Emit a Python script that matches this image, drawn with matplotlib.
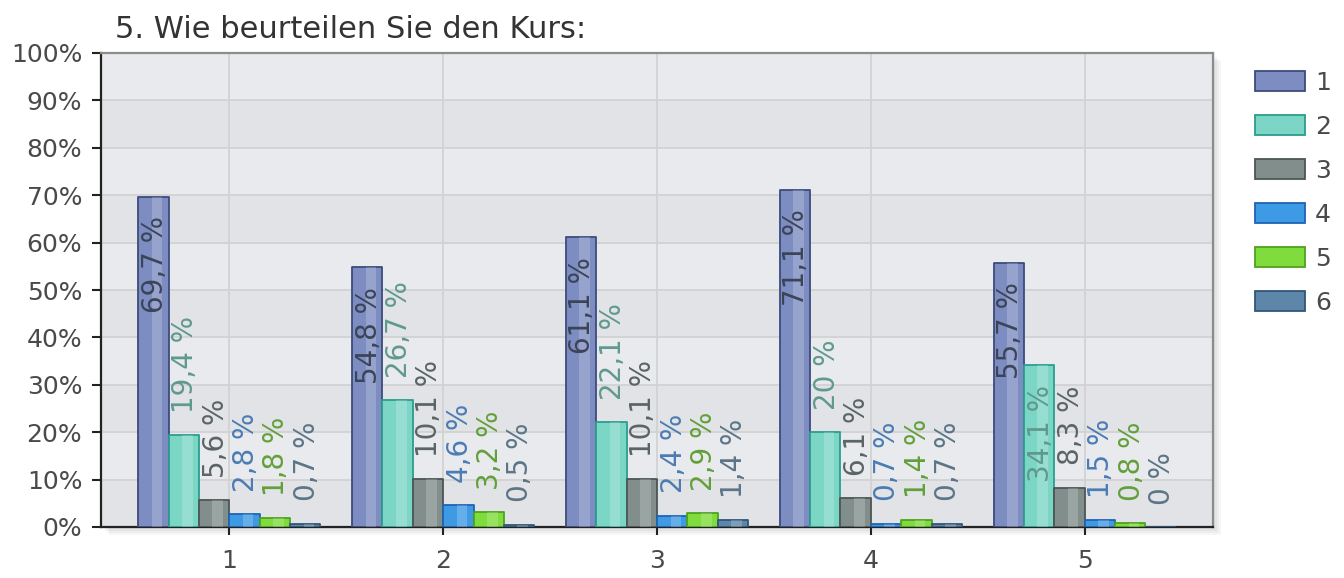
import numpy as np
import matplotlib.pyplot as plt
from matplotlib.patches import Patch, Rectangle

# answers per question block (percent)
groups = ['1', '2', '3', '4', '5']
answers = ['1', '2', '3', '4', '5', '6']
share_1 = [69.7, 54.8, 61.1, 71.1, 55.7]
share_2 = [19.4, 26.7, 22.1, 20.0, 34.1]
share_3 = [5.6, 10.1, 10.1, 6.1, 8.3]
share_4 = [2.8, 4.6, 2.4, 0.7, 1.5]
share_5 = [1.8, 3.2, 2.9, 1.4, 0.8]
share_6 = [0.7, 0.5, 1.4, 0.7, 0.0]
shares = [share_1, share_2, share_3, share_4, share_5, share_6]

FACE = ['#7d8dc1', '#7bd6c6', '#818e8c', '#3f9ae6', '#7fdc3c', '#5d86a8']
EDGE = ['#3d4b7c', '#2a9d8f', '#4b5655', '#1d64b2', '#4ea21e', '#30577a']
TXT = ['#3c4458', '#5f998d', '#5b6464', '#4a7cb3', '#62a03a', '#5b7587']

W, H = 1344, 578
fig = plt.figure(figsize=(W / 100, H / 100), dpi=100)
box = [101 / W, 1 - 527 / H, (1213 - 101) / W, (527 - 53) / H]
ax = fig.add_axes(box)

# soft drop shadow behind the plot area
for off in (2, 4, 6, 8):
    fig.patches.append(Rectangle((box[0] + off / W, box[1] - off / H), box[2], box[3],
                                 transform=fig.transFigure, color='black', alpha=0.035,
                                 lw=0, zorder=-1))

for i in range(10):
    ax.axhspan(i * 10, i * 10 + 10, color='#e8eaed' if i % 2 else '#e2e3e6', lw=0, zorder=0.1)
ax.set_axisbelow(True)
ax.grid(color='#d2d2d2', lw=1.3)

x = np.arange(1, len(groups) + 1)
w = 0.142
for k, vals in enumerate(shares):
    pos = x + (k - 2.5) * w
    ax.bar(pos, vals, w, color=FACE[k], edgecolor=EDGE[k], linewidth=1.3, zorder=3,
           joinstyle='round')
    ax.bar(pos + w * 0.12, vals, w * 0.35, color='white', alpha=0.2, linewidth=0, zorder=3.1)
    for xx, v in zip(pos, vals):
        txt = f'{v:g} %'.replace('.', ',')
        if v >= 30:
            ax.annotate(txt, (xx, v), xytext=(1, -14), textcoords='offset points',
                        rotation=90, ha='center', va='top', fontsize=20, color=TXT[k], zorder=5)
        else:
            ax.annotate(txt, (xx, v), xytext=(1, 16), textcoords='offset points',
                        rotation=90, ha='center', va='bottom', fontsize=20, color=TXT[k], zorder=5)

ax.set_xlim(0.4, 5.6)
ax.set_ylim(0, 100)
ax.set_xticks(x)
ax.set_xticklabels(groups)
ax.set_yticks(range(0, 101, 10))
ax.set_yticklabels([f'{v}%' for v in range(0, 101, 10)])
ax.tick_params(axis='y', length=6.5, width=1.5, pad=7, labelsize=18, labelcolor='#4a4a4a', color='#222222')
ax.tick_params(axis='x', length=6, width=1.5, pad=10, labelsize=18, labelcolor='#4a4a4a', color='#222222')
for s in ('left', 'bottom'):
    ax.spines[s].set_color('#222222')
    ax.spines[s].set_linewidth(1.6)
for s in ('top', 'right'):
    ax.spines[s].set_color('#8c8c8c')
    ax.spines[s].set_linewidth(1.6)

fig.text(115 / W, 1 - 15 / H, '5. Wie beurteilen Sie den Kurs:', fontsize=22,
         color='#333333', ha='left', va='top')

handles = [Patch(facecolor=FACE[k], edgecolor=EDGE[k], linewidth=1.3) for k in range(len(answers))]
fig.legend(handles, answers, loc='upper left', bbox_to_anchor=(1255 / W, 1 - 71 / H),
           frameon=False, fontsize=18, labelcolor='#4a4a4a', handlelength=2.0,
           handleheight=0.84, handletextpad=0.4, labelspacing=0.8, borderpad=0,
           borderaxespad=0)

fig.savefig('out.png', dpi=100, facecolor='white')
